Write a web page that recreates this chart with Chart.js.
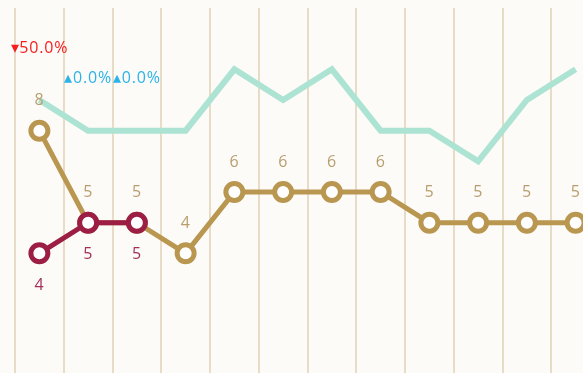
<!DOCTYPE html>
<html>
<head>
<meta charset="utf-8">
<script src="https://cdn.jsdelivr.net/npm/chart.js@4/dist/chart.umd.min.js"></script>
<style>
  html, body { margin: 0; padding: 0; overflow: hidden; background: #fcfbf8; }
  #wrap { position: absolute; left: 0; top: 0; width: 616px; height: 376px; }
</style>
</head>
<body>
<div id="wrap"><canvas id="c"></canvas></div>
<script>
const categories = ["1","2","3","4","5","6","7","8","9","10","11","12"];
const goldValues = [8, 5, 5, 4, 6, 6, 6, 6, 5, 5, 5, 5];
const maroonValues = [4, 5, 5, null, null, null, null, null, null, null, null, null];
const tealValues = [9, 8, 8, 8, 10, 9, 10, 8, 8, 7, 9, 10];
const changeValues = [-50.0, 0.0, 0.0];
const yTicks = [0, 12];

const FONT = '400 16px "Open Sans", sans-serif';

const labelPlugin = {
  id: 'labels',
  afterDatasetsDraw(chart) {
    const ctx = chart.ctx;
    ctx.save();
    ctx.font = FONT;
    try { ctx.letterSpacing = '0.8px'; } catch (e) {}
    ctx.textAlign = 'center';
    ctx.textBaseline = 'middle';
    const gm = chart.getDatasetMeta(1);
    gm.data.forEach((pt, i) => {
      if (goldValues[i] == null) return;
      ctx.fillStyle = '#b99d6e';
      ctx.fillText(String(goldValues[i]), pt.x, pt.y - 30);
    });
    const mm = chart.getDatasetMeta(2);
    mm.data.forEach((pt, i) => {
      if (maroonValues[i] == null) return;
      ctx.fillStyle = '#a3305a';
      ctx.fillText(String(maroonValues[i]), pt.x, pt.y + 32);
    });
    const tm = chart.getDatasetMeta(0);
    changeValues.forEach((v, i) => {
      const pt = tm.data[i];
      const up = v >= 0;
      const txt = (up ? '\u25B4' : '\u25BE') + Math.abs(v).toFixed(1) + '%';
      ctx.fillStyle = up ? '#2bb3ea' : '#f71d1d';
      ctx.fillText(txt, pt.x, pt.y - 52);
    });
    ctx.restore();
  }
};

new Chart(document.getElementById('c'), {
  type: 'line',
  data: {
    labels: categories,
    datasets: [
      {
        data: tealValues,
        borderColor: '#ace3d3',
        borderWidth: 6,
        pointRadius: 0,
        tension: 0,
        fill: false,
        order: 3
      },
      {
        data: goldValues,
        borderColor: '#b99750',
        backgroundColor: '#ffffff',
        borderWidth: 5,
        pointRadius: 8.5,
        pointBorderWidth: 5,
        pointBackgroundColor: '#ffffff',
        pointBorderColor: '#b99750',
        tension: 0,
        fill: false,
        order: 2
      },
      {
        data: maroonValues,
        borderColor: '#9c1e44',
        backgroundColor: '#ffffff',
        borderWidth: 5,
        pointRadius: 8.5,
        pointBorderWidth: 5,
        pointBackgroundColor: '#ffffff',
        pointBorderColor: '#9c1e44',
        tension: 0,
        fill: false,
        spanGaps: false,
        order: 1
      }
    ]
  },
  options: {
    responsive: true,
    maintainAspectRatio: false,
    animation: false,
    layout: { autoPadding: false, padding: { left: 15, right: 16, top: 8, bottom: 0 } },
    plugins: { legend: { display: false }, tooltip: { enabled: false } },
    scales: {
      x: {
        offset: true,
        grid: { offset: true, color: '#e8dcc6', lineWidth: 2, drawTicks: false },
        border: { display: false },
        ticks: { display: false }
      },
      y: {
        min: yTicks[0],
        max: yTicks[1],
        display: false
      }
    }
  },
  plugins: [labelPlugin]
});
</script>
</body>
</html>
